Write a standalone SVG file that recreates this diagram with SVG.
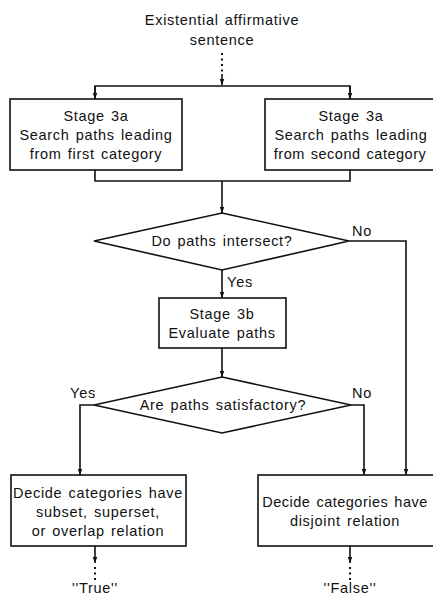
<svg xmlns="http://www.w3.org/2000/svg" width="433" height="597" viewBox="0 0 433 597">
  <style>
    text { font-family: "Liberation Sans", Arial, sans-serif; font-size: 14.5px; fill: #111; letter-spacing: 0.7px; word-spacing: 1.5px; text-anchor: middle; }
    .box { fill: #fff; stroke: #111; stroke-width: 1.6; }
    .wire { fill: none; stroke: #111; stroke-width: 1.6; }
    .dots { fill: none; stroke: #111; stroke-width: 2; stroke-dasharray: 2 3.5; }
    .tight { letter-spacing: 0.5px; }
  </style>
  <defs>
    <marker id="arrow" viewBox="0 0 8 8" refX="8" refY="4" markerWidth="6" markerHeight="6" markerUnits="userSpaceOnUse" orient="auto">
      <path d="M0,1 L8,4 L0,7 Z" fill="#111"/>
    </marker>
  </defs>

  <!-- start text -->
  <g id="start">
    <text x="222" y="25">Existential affirmative</text>
    <text x="222" y="45">sentence</text>
  </g>

  <!-- connectors -->
  <g id="connectors">
    <path class="dots" d="M222,53 V74"/>
    <path class="wire" d="M222,74 V85" marker-end="url(#arrow)"/>
    <path class="wire" d="M95,99 V86 H350 V99"/>
    <path class="wire" d="M95,86 V99" marker-end="url(#arrow)"/>
    <path class="wire" d="M350,86 V99" marker-end="url(#arrow)"/>
    <path class="wire" d="M95,170 V181 H350 V170"/>
    <path class="wire" d="M222,181 V213" marker-end="url(#arrow)"/>
    <!-- intersect: yes -->
    <path class="wire" d="M222,270 V298" marker-end="url(#arrow)"/>
    <!-- intersect: no -->
    <path class="wire" d="M349,241 H406 V475" marker-end="url(#arrow)"/>
    <!-- evaluate -> satisfactory -->
    <path class="wire" d="M222,348 V377" marker-end="url(#arrow)"/>
    <!-- satisfactory: yes / no -->
    <path class="wire" d="M94,405 H80 V475" marker-end="url(#arrow)"/>
    <path class="wire" d="M351,405 H364 V475" marker-end="url(#arrow)"/>
    <!-- outputs -->
    <path class="wire" d="M95,546 V563" marker-end="url(#arrow)"/>
    <path class="dots" d="M95,567 V581"/>
    <path class="wire" d="M350,546 V563" marker-end="url(#arrow)"/>
    <path class="dots" d="M350,567 V581"/>
  </g>

  <g id="search-first">
    <rect class="box" x="10" y="99" width="172" height="71"/>
    <text x="96" y="121">Stage 3a</text>
    <text x="96" y="140">Search paths leading</text>
    <text x="96" y="159">from first category</text>
  </g>

  <g id="search-second">
    <rect class="box" x="265" y="99" width="172" height="71"/>
    <text x="351" y="121">Stage 3a</text>
    <text x="351" y="140">Search paths leading</text>
    <text class="tight" x="350" y="159">from second category</text>
  </g>

  <g id="intersect">
    <polygon class="box" points="222,213 349,241 222,270 94,241"/>
    <text x="222" y="246">Do paths intersect?</text>
  </g>
  <text x="240" y="287">Yes</text>
  <text x="362" y="236">No</text>

  <g id="evaluate">
    <rect class="box" x="159" y="298" width="127" height="50"/>
    <text x="222" y="319">Stage 3b</text>
    <text x="222" y="338">Evaluate paths</text>
  </g>

  <g id="satisfactory">
    <polygon class="box" points="222,377 351,405 222,433 94,405"/>
    <text x="223" y="410">Are paths satisfactory?</text>
  </g>
  <text x="83" y="398">Yes</text>
  <text x="362" y="398">No</text>

  <g id="decide-true">
    <rect class="box" x="11" y="475" width="175" height="71"/>
    <text x="98" y="498">Decide categories have</text>
    <text x="98" y="517">subset, superset,</text>
    <text x="98" y="536">or overlap relation</text>
  </g>

  <g id="decide-false">
    <rect class="box" x="258" y="475" width="180" height="71"/>
    <text class="tight" x="345" y="507">Decide categories have</text>
    <text x="345" y="526">disjoint relation</text>
  </g>

  <g id="results">
    <text x="95" y="593">''True''</text>
    <text x="350" y="593">''False''</text>
  </g>
</svg>
